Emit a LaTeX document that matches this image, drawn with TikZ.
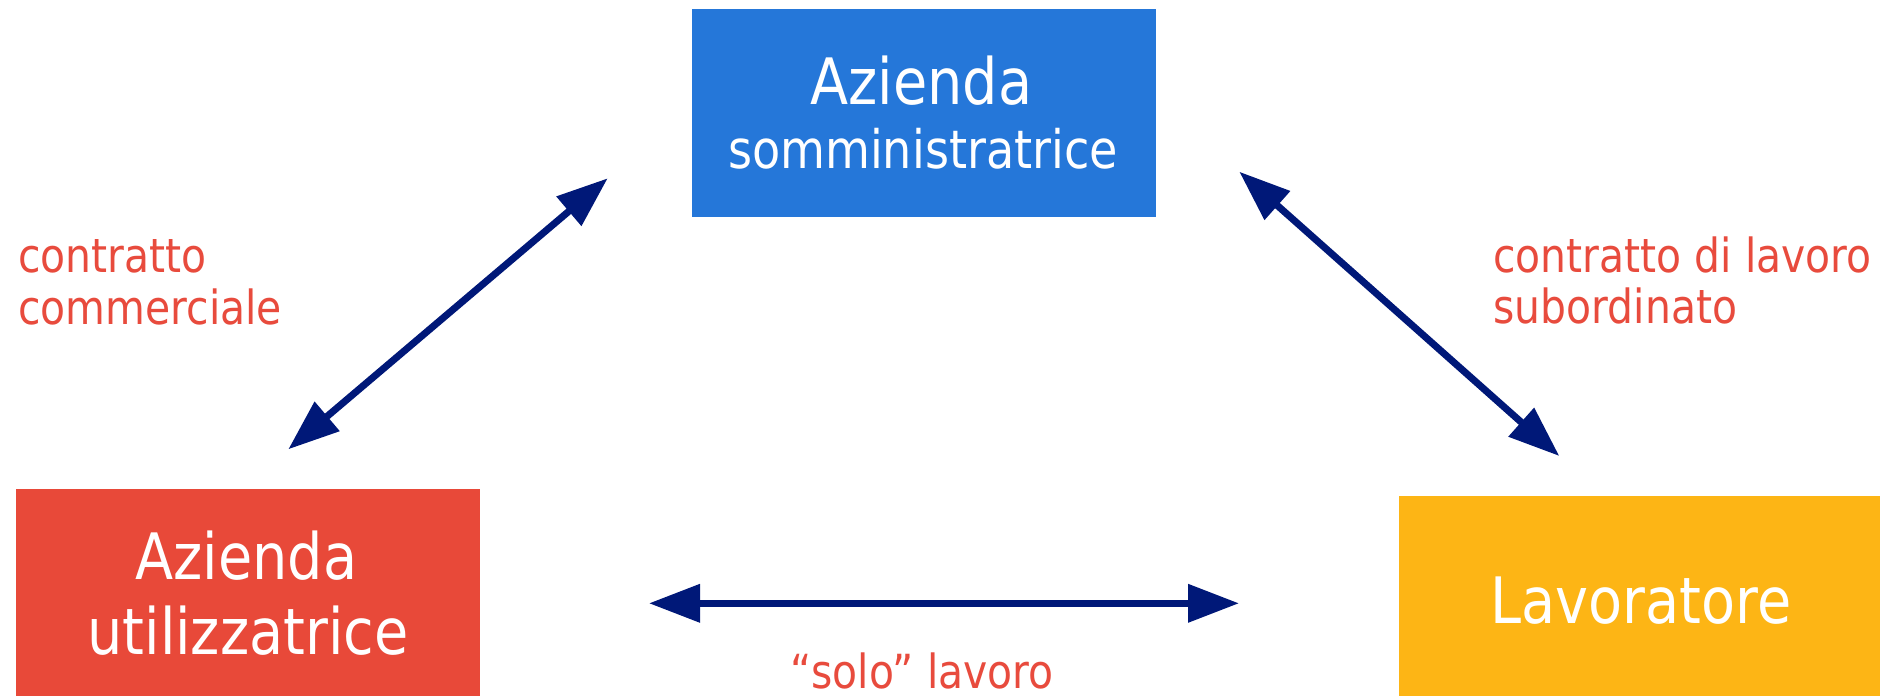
\documentclass[tikz,border=0pt]{standalone}
\usepackage{fontspec}
\setmainfont[FakeStretch=0.87]{DejaVu Sans}
\usetikzlibrary{arrows.meta}
\definecolor{boxblue}{RGB}{37,119,217}
\definecolor{boxred}{RGB}{232,73,57}
\definecolor{boxyellow}{RGB}{253,181,21}
\definecolor{navy}{RGB}{0,24,120}
\definecolor{txtred}{RGB}{232,75,61}
\tikzset{
  box/.style={draw=none, inner sep=0pt, minimum width=#1},
  wbig/.style={text=white, inner sep=0pt, anchor=base, font=\fontsize{32pt}{38pt}\selectfont},
  wsmall/.style={text=white, inner sep=0pt, anchor=base, font=\fontsize{26.5pt}{32pt}\selectfont},
  rtxt/.style={text=txtred, inner sep=0pt, font=\fontsize{23.5pt}{28pt}\selectfont},
  dblarrow/.style={draw=navy, line width=3.5pt, {Triangle[length=25.5pt,width=18.5pt]}-{Triangle[length=25.5pt,width=18.5pt]}}
}
\begin{document}
\begin{tikzpicture}[x=0.5pt,y=-0.5pt]
\path[use as bounding box, clip] (0,0) rectangle (1890,696);
\fill[white] (0,0) rectangle (1890,696);
% boxes
\node[box=232pt, fill=boxblue, minimum height=104pt] (som) at (924,113) {};
\node[box=232pt, fill=boxred, minimum height=104pt] (uti) at (248,593) {};
\node[box=240.5pt, fill=boxyellow, minimum height=104pt] (lav) at (1639.5,600) {};
% box texts
\node[wbig] (som1) at (921.5,104) {Azienda};
\node[wsmall] (som2) at (923,168) {somministratrice};
\node[wbig] (uti1) at (246.5,579) {Azienda};
\node[wbig] (uti2) at (248,654) {utilizzatrice};
\node[wbig] (lav1) at (1641,623) {Lavoratore};
% red labels
\node[rtxt, anchor=base west] (cc1) at (18,272) {contratto};
\node[rtxt, anchor=base west] (cc2) at (18,324) {commerciale};
\node[rtxt, anchor=base west] (cl1) at (1493,272) {contratto di lavoro};
\node[rtxt, anchor=base west] (cl2) at (1493,323) {subordinato};
\node[rtxt, anchor=base] (sl) at (922,688) {“solo” lavoro};
% arrow end points
\coordinate (a1) at (607.7,178.3);
\coordinate (a2) at (288.3,449.3);
\coordinate (b1) at (1239.3,171.7);
\coordinate (b2) at (1559.3,456);
\coordinate (c1) at (649,603.3);
\coordinate (c2) at (1239,603.3);
\draw[dblarrow] (a2) -- (a1);
\draw[dblarrow] (b1) -- (b2);
\draw[dblarrow] (c1) -- (c2);
\end{tikzpicture}
\end{document}
